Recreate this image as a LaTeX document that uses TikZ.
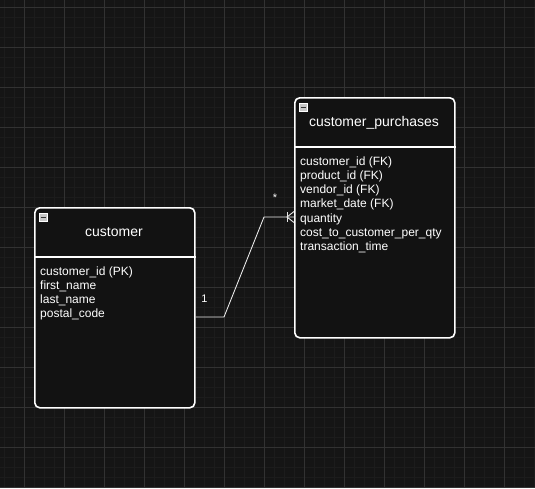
\documentclass[tikz,border=0pt]{standalone}
\usepackage{fontspec}
\setmainfont{Liberation Sans}
\usetikzlibrary{calc}
\definecolor{bg}{HTML}{151515}
\definecolor{minorgrid}{HTML}{1C1C1C}
\definecolor{majorgrid}{HTML}{323232}
\definecolor{tblfill}{HTML}{121212}
\definecolor{iconfill}{HTML}{C8C8C8}
\definecolor{conncol}{HTML}{E6E6E6}
\tikzset{
  tbl/.style={draw=white, line width=1.6pt, rounded corners=5pt, fill=tblfill,
    minimum width=160pt, anchor=north west, inner sep=0pt},
  sep/.style={draw=white, line width=1.6pt},
  ttl/.style={text=white, font=\fontsize{14}{16}\selectfont, inner sep=0pt, anchor=base},
  fld/.style={text=white, font=\fontsize{12}{14}\selectfont, inner sep=0pt, anchor=base west},
  icon/.style={draw=white, line width=0.5pt, fill=iconfill, minimum size=8pt, inner sep=0pt},
  conn/.style={draw=conncol, line width=0.9pt},
  lbl/.style={text=white, font=\fontsize{11}{13}\selectfont, inner sep=0pt},
}
\begin{document}
\begin{tikzpicture}[x=1pt,y=-1pt]
\useasboundingbox (0,0) rectangle (535,488);
\fill[bg] (0,0) rectangle (535,488);
\foreach \x in {4,14,...,534} \draw[minorgrid, line width=0.6pt] (\x,0) -- (\x,488);
\foreach \y in {7,17,...,487} \draw[minorgrid, line width=0.6pt] (0,\y) -- (535,\y);
\foreach \x in {24,64,...,504} \draw[majorgrid, line width=0.8pt] (\x,0) -- (\x,488);
\foreach \y in {7,47,...,487} \draw[majorgrid, line width=0.8pt] (0,\y) -- (535,\y);

% customer table
\node[tbl, minimum height=200pt] (cust) at (34,207) {};
\draw[sep] ($(cust.north west)+(0,50)$) -- ($(cust.north east)+(0,50)$);
\node[icon] (custicon) at (43,217) {};
\draw[black!80, line width=0.8pt] ($(custicon.center)+(-2.5,0)$) -- ($(custicon.center)+(2.5,0)$);
\node[ttl] (custtitle) at (114,236.5) {customer};
\node[fld] (cf1) at (40,275) {customer\_id (PK)};
\node[fld] (cf2) at (40,289.3) {first\_name};
\node[fld] (cf3) at (40,303.6) {last\_name};
\node[fld] (cf4) at (40,317.9) {postal\_code};

% customer_purchases table
\node[tbl, minimum height=240pt] (purch) at (294,97) {};
\draw[sep] ($(purch.north west)+(0,50)$) -- ($(purch.north east)+(0,50)$);
\node[icon] (purchicon) at (303,107) {};
\draw[black!80, line width=0.8pt] ($(purchicon.center)+(-2.5,0)$) -- ($(purchicon.center)+(2.5,0)$);
\node[ttl] (purchtitle) at (374,126.5) {customer\_purchases};
\node[fld] (pf1) at (300,165) {customer\_id (FK)};
\node[fld] (pf2) at (300,179.3) {product\_id (FK)};
\node[fld] (pf3) at (300,193.6) {vendor\_id (FK)};
\node[fld] (pf4) at (300,207.9) {market\_date (FK)};
\node[fld] (pf5) at (300,222.2) {quantity};
\node[fld] (pf6) at (300,236.5) {cost\_to\_customer\_per\_qty};
\node[fld] (pf7) at (300,250.8) {transaction\_time};

% connector
\coordinate (c1) at (224,317);
\coordinate (c2) at (264,217);
\coordinate (cs) at ($(cust.north east)+(0,110)$);
\coordinate (ce) at ($(purch.north west)+(0,120)$);
\draw[conn] (cs) -- (c1) -- (c2) -- (ce);
% one-to-many crow's foot at the purchases end
\draw[conn] ($(ce)+(-7,-5)$) -- ($(ce)+(-7,5)$);
\draw[conn] ($(ce)+(0,-5.5)$) -- ($(ce)+(-7,0)$) -- ($(ce)+(0,5.5)$);
\node[lbl] (one) at (204.5,299) {1};
\node[lbl] (many) at (275,198) {*};
\end{tikzpicture}
\end{document}
